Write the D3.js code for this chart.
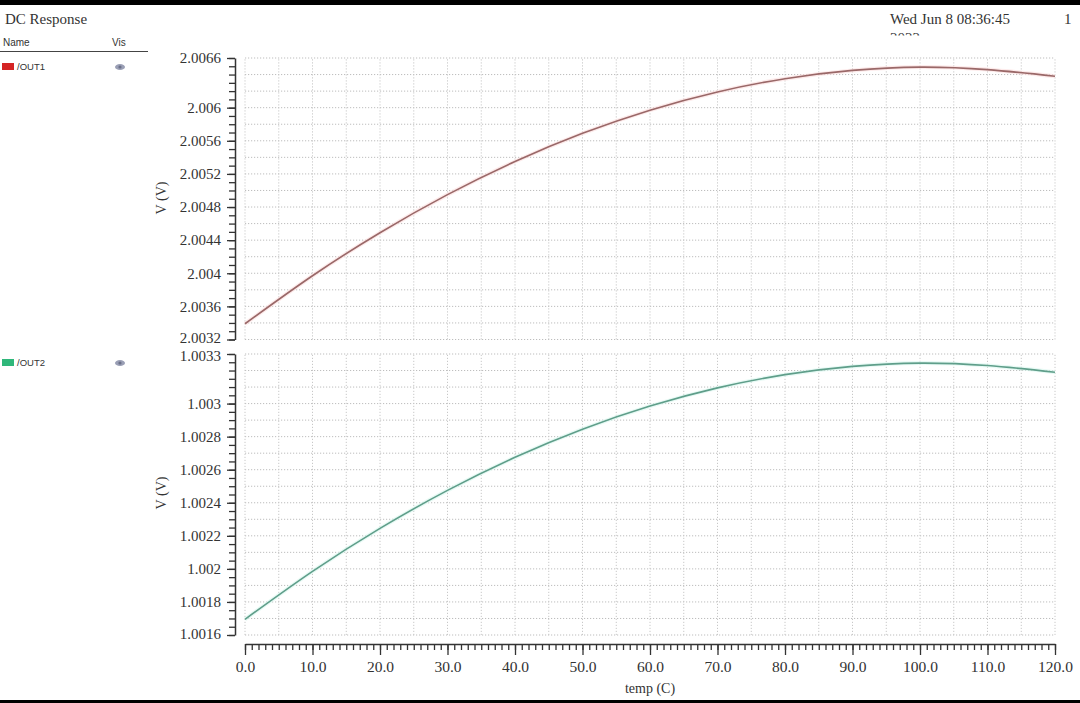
<!DOCTYPE html>
<html><head><meta charset="utf-8">
<script src="https://cdn.jsdelivr.net/npm/d3@7"></script>
<style>
html,body{margin:0;padding:0;background:#fff;}
svg{display:block;}
</style></head>
<body>
<svg id="chart" width="1080" height="703"></svg>
<script>
// ---- data ----
const temps = [0,10,20,30,40,50,60,70,80,90,100,110,120];
const out1 = [2.00339,2.00397,2.00449,2.00495,2.00535,2.00569,2.00597,2.00619,2.00635,2.00645,2.00649,2.00646,2.00638];
const out2 = [1.001695,1.001985,1.002245,1.002475,1.002675,1.002845,1.002985,1.003095,1.003175,1.003225,1.003245,1.003230,1.003190];
const seriesNames = ["/OUT1","/OUT2"];
const xTickLabels = ["0.0","10.0","20.0","30.0","40.0","50.0","60.0","70.0","80.0","90.0","100.0","110.0","120.0"];
const y1TickLabels = ["2.0066","2.006","2.0056","2.0052","2.0048","2.0044","2.004","2.0036","2.0032"];
const y2TickLabels = ["1.0033","1.003","1.0028","1.0026","1.0024","1.0022","1.002","1.0018","1.0016"];

// ---- layout ----
const svg = d3.select("#chart");
const serif = "'Liberation Serif', 'DejaVu Serif', serif";
const sans = "'Liberation Sans', Arial, sans-serif";
const X0 = 245, X1 = 1055, AXX = 235;
const x = d3.scaleLinear().domain([0,120]).range([X0,X1]);
const y1 = d3.scaleLinear().domain([2.0032,2.0066]).range([339.5,58]);
const y2 = d3.scaleLinear().domain([1.0016,1.0033]).range([635,354]);

// frame bars
svg.append("rect").attr("x",0).attr("y",0).attr("width",1080).attr("height",5).attr("fill","#000");
svg.append("rect").attr("x",0).attr("y",700).attr("width",1080).attr("height",3).attr("fill","#000");

// header
svg.append("text").attr("x",5).attr("y",24).attr("font-family",serif).attr("font-size",15).attr("fill","#333").text("DC Response");
svg.append("text").attr("x",890).attr("y",24).attr("font-family",serif).attr("font-size",15).attr("fill","#333").text("Wed Jun 8 08:36:45");
svg.append("text").attr("x",1064).attr("y",24).attr("font-family",serif).attr("font-size",15).attr("fill","#333").text("1");
svg.append("clipPath").attr("id","dclip").append("rect").attr("x",880).attr("y",30).attr("width",100).attr("height",5.5);
svg.append("text").attr("x",890).attr("y",43).attr("font-family",serif).attr("font-size",15).attr("fill","#333").attr("clip-path","url(#dclip)").text("2022");

// legend header
svg.append("text").attr("x",3).attr("y",46).attr("font-family",sans).attr("font-size",10).attr("fill","#333").text("Name");
svg.append("text").attr("x",112).attr("y",46).attr("font-family",sans).attr("font-size",10).attr("fill","#333").text("Vis");
svg.append("line").attr("x1",0).attr("x2",148).attr("y1",51.5).attr("y2",51.5).attr("stroke","#444").attr("stroke-width",1);

const legendColors = ["#d42424","#2fb77a"];
const legendY = [y1.range()[1]+10, y2.range()[1]+10];
seriesNames.forEach((n,i)=>{
  const g = svg.append("g").attr("transform",`translate(0,${legendY[i]})`);
  g.append("rect").attr("x",2).attr("y",-5).attr("width",12).attr("height",7).attr("fill",legendColors[i]);
  g.append("text").attr("x",17).attr("y",2).attr("font-family",sans).attr("font-size",9.5).attr("fill","#333").text(n);
  g.append("ellipse").attr("cx",120).attr("cy",-1).attr("rx",5).attr("ry",3).attr("fill","#9a9fb5");
  g.append("circle").attr("cx",120).attr("cy",-1).attr("r",1.6).attr("fill","#6b7088");
});

// panel drawing
function panel(y, labels, minorStep, gridStep, data, color, halo, labelYCenter, edgeShift){
  const [d0,d1] = y.domain();
  const n = Math.round((d1-d0)/minorStep);
  const minor = d3.range(n+1).map(i=>d0+i*minorStep);
  const ng = Math.round((d1-d0)/gridStep);
  const gridV = d3.range(ng+1).map(i=>d0+i*gridStep);
  const g = svg.append("g");
  g.selectAll(".hg").data(gridV).join("line")
    .attr("x1",X0).attr("x2",X1).attr("y1",d=>y(d)).attr("y2",d=>y(d))
    .attr("stroke","#bdbdbd").attr("stroke-width",1).attr("stroke-dasharray","1.2,1.8");
  g.selectAll(".vg").data(d3.range(0,121,5)).join("line")
    .attr("x1",d=>x(d)).attr("x2",d=>x(d)).attr("y1",y.range()[0]).attr("y2",y.range()[1])
    .attr("stroke","#c8c8c8").attr("stroke-width",1).attr("stroke-dasharray","1.2,1.8");
  const ax = svg.append("g").attr("transform",`translate(${AXX},0)`)
    .call(d3.axisLeft(y).tickValues(minor).tickSize(6).tickSizeOuter(0).tickFormat(""));
  ax.select(".domain").attr("stroke","#333").attr("stroke-width",1.5);
  ax.selectAll(".tick line").attr("stroke","#333").attr("stroke-width",1.3);
  const vals = labels.map(Number);
  const ax2 = svg.append("g").attr("transform",`translate(${AXX},0)`)
    .call(d3.axisLeft(y).tickValues(vals).tickSize(8).tickSizeOuter(0).tickPadding(6).tickFormat((d,i)=>labels[i]));
  ax2.select(".domain").remove();
  ax2.selectAll(".tick line").attr("stroke","#333").attr("stroke-width",1.3);
  ax2.selectAll(".tick text").attr("font-family",serif).attr("font-size",15).attr("fill","#333");
  // nudge edge labels apart from the neighbouring panel
  ax2.selectAll(".tick text").filter(d=>d===d0).attr("dy", (0.32 + edgeShift[0]/15) + "em");
  ax2.selectAll(".tick text").filter(d=>d===d1).attr("dy", (0.32 + edgeShift[1]/15) + "em");
  svg.append("text").attr("transform",`translate(166,${labelYCenter}) rotate(-90)`)
    .attr("text-anchor","middle").attr("font-family",serif).attr("font-size",14).attr("fill","#333").text("V (V)");
  const line = d3.line().x((d,i)=>x(temps[i])).y(d=>y(d)).curve(d3.curveNatural);
  g.append("path").attr("d",line(data)).attr("fill","none").attr("stroke",halo).attr("stroke-width",4).attr("stroke-opacity",0.6);
  g.append("path").attr("d",line(data)).attr("fill","none").attr("stroke",color).attr("stroke-width",1.6);
}
panel(y1, y1TickLabels, 0.0001, 0.0002, out1, "#9a6868", "#fbdede", 198, [-2,0]);
panel(y2, y2TickLabels, 0.00005, 0.0001, out2, "#5f9e8a", "#d8f6ee", 493, [-1,1.5]);

// x axis
const xa = svg.append("g").attr("transform","translate(0,644)")
  .call(d3.axisBottom(x).tickValues(d3.range(0,121,1)).tickSize(6).tickSizeOuter(0).tickFormat(""));
xa.select(".domain").attr("stroke","#333").attr("stroke-width",1.5);
xa.selectAll(".tick line").attr("stroke","#333").attr("stroke-width",1.3);
const xa2 = svg.append("g").attr("transform","translate(0,644)")
  .call(d3.axisBottom(x).tickValues(xTickLabels.map(Number)).tickSize(11).tickSizeOuter(0).tickPadding(6).tickFormat((d,i)=>xTickLabels[i]));
xa2.select(".domain").remove();
xa2.selectAll(".tick line").attr("stroke","#333").attr("stroke-width",1.3);
xa2.selectAll(".tick text").attr("font-family",serif).attr("font-size",15.5).attr("fill","#333");
svg.append("text").attr("x",650).attr("y",693).attr("text-anchor","middle").attr("font-family",serif).attr("font-size",14).attr("fill","#333").text("temp (C)");
</script>
</body></html>
